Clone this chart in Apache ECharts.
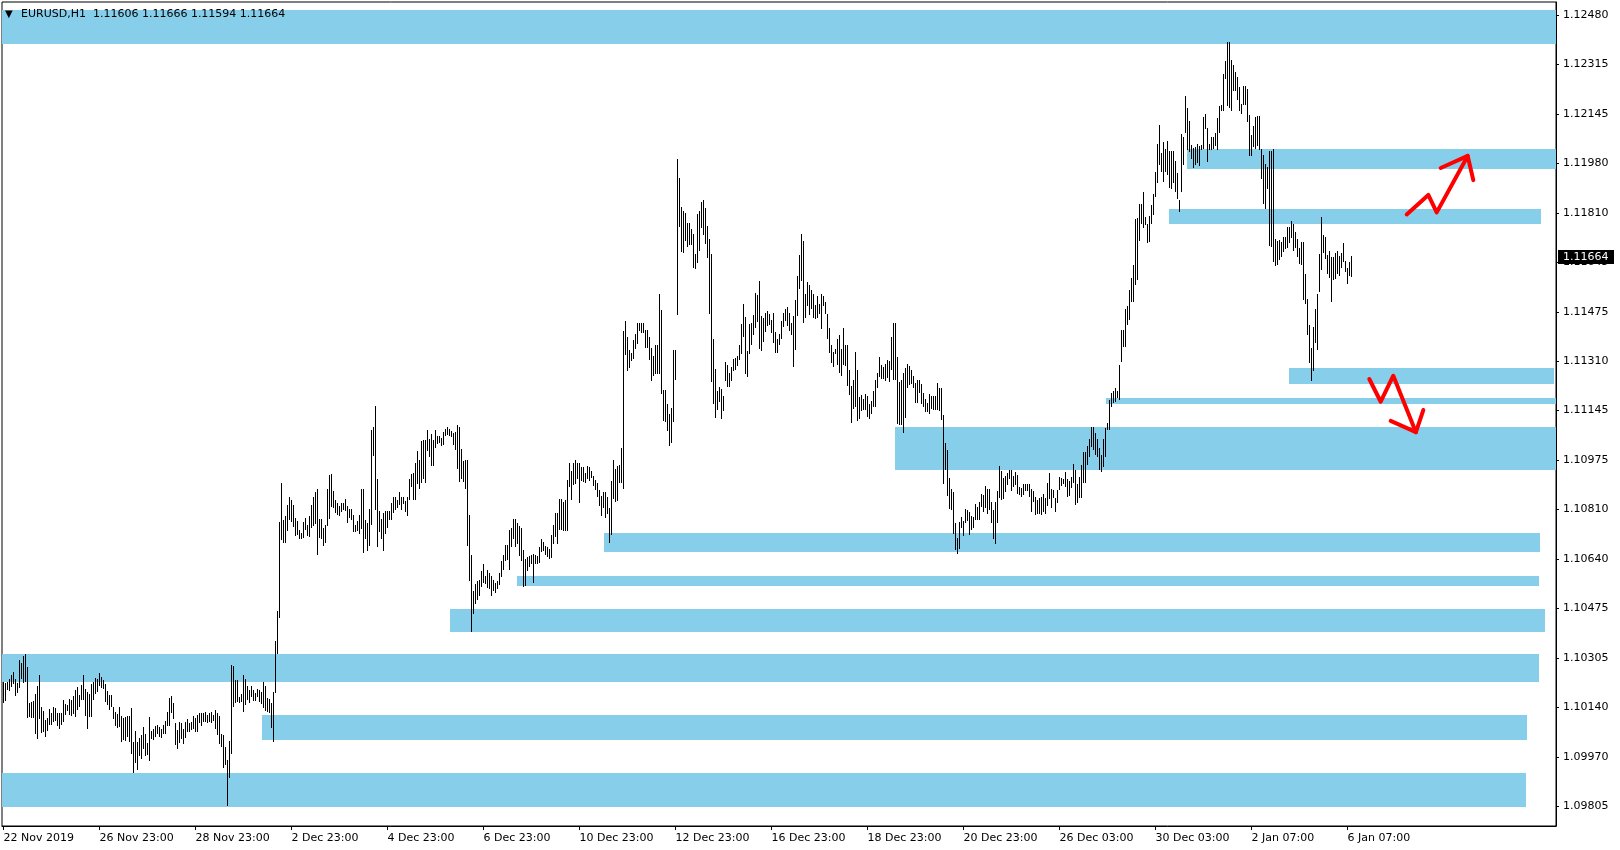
<!DOCTYPE html>
<html>
<head>
<meta charset="utf-8">
<script src="https://cdn.jsdelivr.net/npm/echarts@6/dist/echarts.min.js"></script>
<style>
html,body{margin:0;padding:0;background:#fff;}
#chart{width:1620px;height:850px;}
</style>
</head>
<body>
<div id="chart"></div>
<script>
// ---------- data ----------
const symbolName = 'EURUSD,H1';
const lastOHLC = [1.11606, 1.11666, 1.11594, 1.11664];

const timeLabels = ['22 Nov 2019','26 Nov 23:00','28 Nov 23:00','2 Dec 23:00','4 Dec 23:00','6 Dec 23:00',
  '10 Dec 23:00','12 Dec 23:00','16 Dec 23:00','18 Dec 23:00','20 Dec 23:00','26 Dec 03:00',
  '30 Dec 03:00','2 Jan 07:00','6 Jan 07:00'];
const timeLabelBars = [0,48,96,144,192,240,288,336,384,432,480,528,576,624,672];

const priceTicks = [1.09805,1.09970,1.10140,1.10305,1.10475,1.10640,1.10810,1.10975,1.11145,
  1.11310,1.11475,1.11645,1.11810,1.11980,1.12145,1.12315,1.12480];

const highs = [
1.10225,1.10221,1.10225,1.10236,1.10247,1.10258,1.10236,1.10221,1.10298,1.10289,
1.10314,1.10319,1.10276,1.10152,1.10157,1.10160,1.10183,1.10210,1.10247,1.10140,
1.10127,1.10095,1.10103,1.10132,1.10120,1.10140,1.10136,1.10120,1.10120,1.10118,
1.10163,1.10149,1.10146,1.10166,1.10163,1.10178,1.10198,1.10206,1.10179,1.10214,
1.10247,1.10201,1.10189,1.10183,1.10219,1.10226,1.10237,1.10236,1.10255,1.10242,
1.10231,1.10219,1.10194,1.10180,1.10180,1.10141,1.10123,1.10115,1.10140,1.10109,
1.10104,1.10106,1.10109,1.10109,1.10135,1.10022,1.10059,1.10022,1.10034,1.10044,
1.10073,1.10047,1.10018,1.10105,1.10059,1.10064,1.10077,1.10078,1.10073,1.10066,
1.10078,1.10093,1.10123,1.10170,1.10176,1.10154,1.10087,1.10061,1.10088,1.10084,
1.10064,1.10090,1.10100,1.10086,1.10090,1.10109,1.10104,1.10112,1.10120,1.10120,
1.10118,1.10123,1.10114,1.10118,1.10122,1.10112,1.10131,1.10121,1.10109,1.10048,
1.10044,1.10003,1.09960,1.10024,1.10281,1.10278,1.10231,1.10231,1.10174,1.10185,
1.10247,1.10236,1.10210,1.10199,1.10210,1.10199,1.10188,1.10202,1.10199,1.10191,
1.10225,1.10210,1.10170,1.10167,1.10154,1.10191,1.10362,1.10464,1.10766,1.10898,
1.10774,1.10785,1.10823,1.10851,1.10842,1.10823,1.10781,1.10769,1.10738,1.10729,
1.10766,1.10781,1.10755,1.10785,1.10823,1.10851,1.10866,1.10876,1.10775,1.10775,
1.10744,1.10755,1.10876,1.10924,1.10930,1.10870,1.10840,1.10831,1.10819,1.10831,
1.10831,1.10843,1.10821,1.10809,1.10809,1.10789,1.10755,1.10769,1.10789,1.10877,
1.10877,1.10772,1.10761,1.10809,1.11077,1.11088,1.11158,1.10911,1.10803,1.10775,
1.10795,1.10803,1.10803,1.10804,1.10831,1.10849,1.10849,1.10840,1.10868,1.10851,
1.10849,1.10838,1.10851,1.10911,1.10928,1.10933,1.10967,1.11006,1.10975,1.11039,
1.11043,1.11045,1.11077,1.11048,1.11065,1.11045,1.11077,1.11057,1.11057,1.11051,
1.11071,1.11082,1.11088,1.11080,1.11073,1.11068,1.11070,1.11094,1.11086,1.11012,
1.10972,1.10975,1.10975,1.10789,1.10654,1.10532,1.10556,1.10567,1.10571,1.10599,
1.10623,1.10583,1.10603,1.10592,1.10583,1.10571,1.10558,1.10567,1.10595,1.10633,
1.10654,1.10687,1.10687,1.10738,1.10746,1.10775,1.10775,1.10764,1.10753,1.10744,
1.10671,1.10642,1.10648,1.10650,1.10654,1.10656,1.10654,1.10651,1.10680,1.10708,
1.10697,1.10685,1.10682,1.10676,1.10721,1.10755,1.10795,1.10797,1.10843,1.10843,
1.10832,1.10842,1.10907,1.10966,1.10939,1.10966,1.10975,1.10966,1.10966,1.10953,
1.10953,1.10933,1.10955,1.10953,1.10938,1.10921,1.10907,1.10898,1.10874,1.10854,
1.10868,1.10868,1.10851,1.10815,1.10905,1.10975,1.10945,1.10955,1.10958,1.11017,
1.11413,1.11445,1.11392,1.11347,1.11338,1.11381,1.11402,1.11440,1.11440,1.11438,
1.11440,1.11415,1.11415,1.11392,1.11356,1.11327,1.11364,1.11364,1.11539,1.11483,
1.11212,1.11212,1.11167,1.11131,1.11153,1.11347,1.11347,1.11994,1.11931,1.11832,
1.11819,1.11812,1.11778,1.11778,1.11757,1.11742,1.11674,1.11807,1.11818,1.11849,
1.11857,1.11830,1.11767,1.11725,1.11674,1.11384,1.11283,1.11208,1.11223,1.11215,
1.11192,1.11307,1.11296,1.11270,1.11289,1.11319,1.11322,1.11327,1.11364,1.11435,
1.11503,1.11460,1.11344,1.11435,1.11441,1.11465,1.11542,1.11534,1.11581,1.11463,
1.11457,1.11475,1.11479,1.11471,1.11449,1.11475,1.11409,1.11384,1.11401,1.11445,
1.11475,1.11488,1.11492,1.11475,1.11441,1.11462,1.11516,1.11598,1.11669,1.11742,
1.11716,1.11537,1.11577,1.11567,1.11550,1.11537,1.11499,1.11530,1.11505,1.11539,
1.11531,1.11511,1.11471,1.11421,1.11366,1.11340,1.11352,1.11384,1.11398,1.11351,
1.11421,1.11364,1.11364,1.11280,1.11225,1.11246,1.11340,1.11280,1.11189,1.11195,
1.11181,1.11198,1.11192,1.11164,1.11176,1.11210,1.11246,1.11270,1.11325,1.11296,
1.11291,1.11300,1.11313,1.11310,1.11392,1.11439,1.11439,1.11325,1.11240,1.11246,
1.11270,1.11287,1.11302,1.11293,1.11280,1.11259,1.11237,1.11246,1.11248,1.11234,
1.11203,1.11181,1.11169,1.11198,1.11192,1.11192,1.11192,1.11237,1.11221,1.11220,
1.11127,1.11034,1.11009,1.10915,1.10876,1.10868,1.10761,1.10712,1.10766,1.10783,
1.10770,1.10810,1.10808,1.10800,1.10787,1.10783,1.10828,1.10817,1.10832,1.10860,
1.10857,1.10888,1.10876,1.10876,1.10832,1.10806,1.10834,1.10871,1.10955,1.10939,
1.10916,1.10921,1.10932,1.10943,1.10941,1.10921,1.10935,1.10924,1.10885,1.10882,
1.10894,1.10893,1.10893,1.10893,1.10878,1.10871,1.10849,1.10840,1.10848,1.10851,
1.10860,1.10848,1.10897,1.10931,1.10878,1.10874,1.10846,1.10874,1.10919,1.10914,
1.10910,1.10936,1.10911,1.10905,1.10919,1.10961,1.10942,1.10893,1.10919,1.10959,
1.11002,1.11002,1.11024,1.11047,1.11089,1.11089,1.11066,1.11047,1.11018,1.10993,
1.11047,1.11083,1.11100,1.11179,1.11201,1.11209,1.11218,1.11209,1.11297,1.11416,
1.11416,1.11487,1.11498,1.11551,1.11593,1.11636,1.11791,1.11794,1.11841,1.11841,
1.11882,1.11799,1.11773,1.11803,1.11839,1.11875,1.11952,1.12047,1.12109,1.12014,
1.12051,1.12028,1.12055,1.12021,1.12021,1.12021,1.11988,1.11946,1.11856,1.12078,
1.12070,1.12208,1.12168,1.12123,1.12042,1.12033,1.12036,1.12047,1.12040,1.12042,
1.12138,1.12147,1.12098,1.12047,1.12070,1.12070,1.12081,1.12134,1.12174,1.12179,
1.12282,1.12326,1.12389,1.12391,1.12329,1.12312,1.12290,1.12273,1.12239,1.12181,
1.12243,1.12243,1.12231,1.12143,1.12076,1.12107,1.12138,1.12140,1.12140,1.12030,
1.12008,1.11976,1.11968,1.12021,1.12021,1.12028,1.11724,1.11717,1.11720,1.11715,
1.11732,1.11732,1.11765,1.11765,1.11786,1.11774,1.11746,1.11724,1.11695,1.11715,
1.11715,1.11605,1.11521,1.11433,1.11354,1.11427,1.11487,1.11538,1.11673,1.11799,
1.11739,1.11732,1.11670,1.11683,1.11664,1.11664,1.11675,1.11683,1.11667,1.11675,
1.11709,1.11649,1.11624,1.11647,1.11666
];

const lows = [
1.10154,1.10161,1.10197,1.10193,1.10208,1.10217,1.10178,1.10188,1.10205,1.10234,
1.10221,1.10225,1.10101,1.10106,1.10103,1.10101,1.10048,1.10032,1.10099,1.10052,
1.10054,1.10039,1.10059,1.10078,1.10080,1.10090,1.10092,1.10076,1.10066,1.10080,
1.10090,1.10112,1.10127,1.10112,1.10110,1.10115,1.10106,1.10131,1.10140,1.10162,
1.10163,1.10110,1.10066,1.10106,1.10106,1.10165,1.10185,1.10192,1.10210,1.10205,
1.10202,1.10157,1.10146,1.10130,1.10140,1.10099,1.10076,1.10069,1.10073,1.10022,
1.10027,1.10025,1.10037,1.10022,1.09980,1.09917,1.09951,1.09926,1.09974,1.09964,
1.09999,1.09974,1.09979,1.09958,1.10030,1.10027,1.10037,1.10050,1.10039,1.10034,
1.10047,1.10050,1.10076,1.10075,1.10120,1.10099,1.10011,1.09998,1.10018,1.10033,
1.10015,1.10034,1.10056,1.10056,1.10061,1.10067,1.10056,1.10056,1.10087,1.10075,
1.10090,1.10090,1.10086,1.10088,1.10084,1.10092,1.10066,1.10044,1.10013,1.10005,
1.09932,1.09943,1.09805,1.09898,1.09982,1.10140,1.10154,1.10157,1.10155,1.10157,
1.10123,1.10146,1.10165,1.10154,1.10172,1.10161,1.10161,1.10172,1.10157,1.10149,
1.10135,1.10127,1.10123,1.10118,1.10070,1.10022,1.10188,1.10319,1.10441,1.10704,
1.10695,1.10695,1.10736,1.10772,1.10766,1.10749,1.10718,1.10721,1.10709,1.10709,
1.10712,1.10738,1.10718,1.10715,1.10744,1.10753,1.10758,1.10655,1.10712,1.10709,
1.10685,1.10696,1.10752,1.10776,1.10817,1.10815,1.10797,1.10789,1.10786,1.10800,
1.10808,1.10804,1.10763,1.10778,1.10772,1.10733,1.10733,1.10736,1.10725,1.10742,
1.10662,1.10708,1.10668,1.10684,1.10755,1.10989,1.10808,1.10682,1.10733,1.10708,
1.10668,1.10725,1.10744,1.10772,1.10772,1.10795,1.10806,1.10815,1.10823,1.10806,
1.10828,1.10800,1.10786,1.10840,1.10885,1.10840,1.10840,1.10896,1.10879,1.10899,
1.10910,1.10898,1.11007,1.10986,1.10955,1.10955,1.11015,1.11029,1.11034,1.11022,
1.11026,1.11056,1.11062,1.11056,1.11054,1.11027,1.11009,1.10947,1.10902,1.10911,
1.10902,1.10877,1.10684,1.10567,1.10394,1.10456,1.10488,1.10501,1.10516,1.10546,
1.10561,1.10556,1.10543,1.10538,1.10516,1.10533,1.10527,1.10538,1.10552,1.10580,
1.10603,1.10634,1.10637,1.10603,1.10680,1.10708,1.10680,1.10691,1.10651,1.10634,
1.10546,1.10550,1.10601,1.10612,1.10623,1.10560,1.10623,1.10623,1.10628,1.10663,
1.10668,1.10654,1.10648,1.10642,1.10645,1.10691,1.10716,1.10693,1.10738,1.10738,
1.10736,1.10736,1.10736,1.10883,1.10840,1.10891,1.10894,1.10913,1.10831,1.10905,
1.10902,1.10898,1.10910,1.10905,1.10916,1.10888,1.10874,1.10851,1.10821,1.10787,
1.10814,1.10780,1.10792,1.10695,1.10721,1.10845,1.10834,1.10838,1.10898,1.10898,
1.10877,1.11330,1.11277,1.11288,1.11311,1.11317,1.11351,1.11370,1.11413,1.11407,
1.11407,1.11356,1.11356,1.11314,1.11244,1.11261,1.11266,1.11268,1.11266,1.11198,
1.11107,1.11105,1.11074,1.11024,1.11034,1.11105,1.11248,1.11468,1.11765,1.11680,
1.11677,1.11717,1.11697,1.11703,1.11703,1.11626,1.11622,1.11643,1.11683,1.11761,
1.11736,1.11706,1.11660,1.11471,1.11240,1.11167,1.11118,1.11146,1.11172,1.11115,
1.11142,1.11243,1.11223,1.11223,1.11243,1.11277,1.11280,1.11293,1.11313,1.11336,
1.11392,1.11268,1.11257,1.11333,1.11366,1.11398,1.11421,1.11443,1.11351,1.11345,
1.11375,1.11409,1.11430,1.11432,1.11406,1.11372,1.11339,1.11339,1.11364,1.11387,
1.11426,1.11446,1.11430,1.11413,1.11400,1.11289,1.11347,1.11462,1.11556,1.11582,
1.11440,1.11457,1.11497,1.11468,1.11486,1.11457,1.11454,1.11457,1.11471,1.11419,
1.11497,1.11471,1.11386,1.11338,1.11304,1.11289,1.11336,1.11296,1.11270,1.11259,
1.11296,1.11293,1.11227,1.11197,1.11101,1.11149,1.11154,1.11108,1.11115,1.11142,
1.11144,1.11144,1.11122,1.11115,1.11133,1.11155,1.11155,1.11221,1.11257,1.11251,
1.11249,1.11243,1.11254,1.11240,1.11280,1.11246,1.11246,1.11099,1.11093,1.11093,
1.11067,1.11119,1.11221,1.11229,1.11234,1.11221,1.11170,1.11170,1.11204,1.11167,
1.11155,1.11139,1.11139,1.11133,1.11150,1.11144,1.11146,1.11146,1.11142,1.11110,
1.10894,1.10941,1.10854,1.10811,1.10806,1.10725,1.10670,1.10657,1.10676,1.10746,
1.10719,1.10761,1.10769,1.10723,1.10740,1.10744,1.10772,1.10772,1.10772,1.10817,
1.10800,1.10815,1.10794,1.10806,1.10763,1.10708,1.10691,1.10763,1.10847,1.10840,
1.10845,1.10868,1.10890,1.10910,1.10870,1.10885,1.10890,1.10862,1.10859,1.10849,
1.10857,1.10872,1.10871,1.10852,1.10801,1.10835,1.10790,1.10792,1.10793,1.10790,
1.10801,1.10793,1.10821,1.10844,1.10812,1.10846,1.10799,1.10829,1.10874,1.10889,
1.10893,1.10886,1.10852,1.10855,1.10880,1.10897,1.10824,1.10829,1.10846,1.10848,
1.10897,1.10897,1.10959,1.10987,1.11019,1.11010,1.10993,1.10987,1.10942,1.10936,
1.10953,1.10987,1.11077,1.11077,1.11156,1.11168,1.11173,1.11184,1.11179,1.11309,
1.11359,1.11359,1.11433,1.11450,1.11512,1.11512,1.11568,1.11585,1.11717,1.11773,
1.11760,1.11771,1.11709,1.11715,1.11773,1.11805,1.11867,1.11915,1.11974,1.11952,
1.11918,1.11952,1.11940,1.11895,1.11893,1.11912,1.11882,1.11859,1.11814,1.11882,
1.11974,1.12081,1.12025,1.12017,1.11994,1.11963,1.11974,1.11980,1.11972,1.12025,
1.12030,1.12096,1.11985,1.12025,1.12025,1.12030,1.12040,1.12025,1.12081,1.12157,
1.12157,1.12267,1.12175,1.12168,1.12157,1.12224,1.12224,1.12194,1.12157,1.12146,
1.12179,1.12177,1.12121,1.12006,1.12006,1.12036,1.12030,1.12040,1.12025,1.11927,
1.11841,1.11825,1.11893,1.11701,1.11698,1.11647,1.11633,1.11636,1.11653,1.11662,
1.11681,1.11690,1.11694,1.11709,1.11726,1.11683,1.11692,1.11664,1.11639,1.11636,
1.11517,1.11503,1.11399,1.11303,1.11244,1.11277,1.11371,1.11348,1.11545,1.11619,
1.11675,1.11656,1.11604,1.11591,1.11512,1.11585,1.11588,1.11604,1.11600,1.11624,
1.11647,1.11613,1.11570,1.11600,1.11594
];

// zones: [startBar, endBar, topPrice, bottomPrice]; null = chart edge
const zones = [
  [null,   null,   1.12498, 1.12385],
  [591.75, null,   1.12028, 1.11960],
  [582.75, 768.75, 1.11825, 1.11775],
  [642.75, 775.25, 1.11287, 1.11233],
  [551,    null,   1.11186, 1.11166],
  [445.75, null,   1.11087, 1.10942],
  [300,    768.25, 1.10729, 1.10665],
  [256.5,  767.75, 1.10583, 1.10549],
  [223,    770.75, 1.10472, 1.10394],
  [null,   767.75, 1.10319, 1.10225],
  [129,    761.75, 1.10113, 1.10028],
  [null,   761.25, 1.09917, 1.09802]
];

// hand-drawn arrows [bar, price]
const arrowUpPath   = [[701.6,1.11807],[712.4,1.11873],[716.6,1.11814],[732.1,1.12005]];
const arrowUpHead   = [[718.6,1.11964],[732.1,1.12005],[734.9,1.11923]];
const arrowDownPath = [[682.9,1.11250],[688.6,1.11173],[694.9,1.11261],[706.2,1.11070]];
const arrowDownHead = [[693.6,1.11108],[706.2,1.11070],[709.9,1.11145]];

// ---------- chart ----------
const FONT = 'DejaVu Sans';
const X_MIN = -0.75, X_MAX = 776.25;
const Y_MIN = 1.09737, Y_MAX = 1.12526;

const barData = highs.map((h, i) => [i, Math.max(h, lows[i]), Math.min(h, lows[i])]);
const zoneData = zones.map(z => [z[0] == null ? X_MIN : z[0], z[1] == null ? X_MAX : z[1], z[2], z[3]]);

function renderBar(params, api) {
  const i = api.value(0);
  const top = api.coord([i, api.value(1)]);
  const bot = api.coord([i, api.value(2)]);
  const x = Math.floor(top[0]) + 0.5;
  const y1 = Math.round(top[1]);
  let y2 = Math.round(bot[1]);
  if (y2 <= y1) y2 = y1 + 1;
  return { type: 'line', shape: { x1: x, y1: y1, x2: x, y2: y2 },
           style: { stroke: '#000', lineWidth: 1 } };
}

function renderZone(params, api) {
  const cs = params.coordSys;
  const p1 = api.coord([api.value(0), api.value(2)]);
  const p2 = api.coord([api.value(1), api.value(3)]);
  const x1 = Math.max(cs.x, Math.round(p1[0]));
  const x2 = Math.min(cs.x + cs.width, Math.round(p2[0]));
  const y1 = Math.round(p1[1]);
  const y2 = Math.round(p2[1]);
  return { type: 'rect', shape: { x: x1, y: y1, width: x2 - x1, height: y2 - y1 },
           style: { fill: '#87CEEB' } };
}

// current-price tag on the price scale
function renderPriceTag(params, api) {
  const p = api.coord([api.value(0), api.value(1)]);
  const x = Math.round(p[0]) + 2;
  const y = Math.round(p[1]);
  return {
    type: 'group',
    children: [
      { type: 'rect', shape: { x: x, y: y - 7, width: 56, height: 14 }, style: { fill: '#000' } },
      { type: 'text', x: x + 5, y: y, style: { text: api.value(1).toFixed(5), fill: '#fff',
          fontFamily: FONT, fontSize: 11, verticalAlign: 'middle', align: 'left' } }
    ]
  };
}

const arrowStyle = { color: '#ff0000', width: 4, cap: 'round', join: 'round' };
function arrowSeries(data) {
  return { type: 'line', data: data, symbol: 'none', silent: true, animation: false,
           lineStyle: arrowStyle, z: 10 };
}

const chart = echarts.init(document.getElementById('chart'), null, { renderer: 'canvas' });
chart.setOption({
  backgroundColor: '#fff',
  animation: false,
  title: {
    text: '{t|▼}' + symbolName + '  ' + lastOHLC.map(v => v.toFixed(5)).join(' '),
    left: 5, top: 8, padding: 0,
    textStyle: { fontFamily: FONT, fontSize: 11, fontWeight: 'normal', color: '#000', lineHeight: 13,
      rich: { t: { fontFamily: FONT, fontSize: 10, color: '#000', width: 16 } } }
  },
  grid: { left: 2, top: 2, width: 1554, height: 824, show: true, borderColor: '#000', borderWidth: 1,
          backgroundColor: '#fff', containLabel: false, outerBoundsMode: 'none' },
  xAxis: {
    type: 'value', min: X_MIN, max: X_MAX, position: 'bottom',
    axisLine: { show: true, onZero: false, lineStyle: { color: '#000', width: 1 } },
    axisTick: { show: true, customValues: timeLabelBars, length: 4, lineStyle: { color: '#000' } },
    axisLabel: { customValues: timeLabelBars, align: 'left', margin: 7, color: '#000',
      fontFamily: FONT, fontSize: 11,
      formatter: v => { const k = timeLabelBars.indexOf(Math.round(v)); return k >= 0 ? timeLabels[k] : ''; } },
    splitLine: { show: false }
  },
  yAxis: {
    type: 'value', min: Y_MIN, max: Y_MAX, position: 'right', scale: true,
    axisLine: { show: true, onZero: false, lineStyle: { color: '#000', width: 1 } },
    axisTick: { show: true, customValues: priceTicks, length: 3, lineStyle: { color: '#000' } },
    axisLabel: { customValues: priceTicks, margin: 7, color: '#000', fontFamily: FONT, fontSize: 11,
      formatter: v => v.toFixed(5) },
    splitLine: { show: false }
  },
  series: [
    { type: 'custom', name: 'zones', data: zoneData, renderItem: renderZone,
      encode: { x: [0, 1], y: [2, 3] }, silent: true, animation: false, z: 1 },
    { type: 'custom', name: 'bars', data: barData, renderItem: renderBar,
      encode: { x: 0, y: [1, 2] }, silent: true, animation: false, z: 3 },
    arrowSeries(arrowUpPath),
    arrowSeries(arrowUpHead),
    arrowSeries(arrowDownPath),
    arrowSeries(arrowDownHead),
    { type: 'custom', name: 'priceTag', data: [[X_MAX, lastOHLC[3]]], renderItem: renderPriceTag,
      encode: { x: 0, y: 1 }, clip: false, silent: true, animation: false, z: 20 }
  ]
});
</script>
</body>
</html>
